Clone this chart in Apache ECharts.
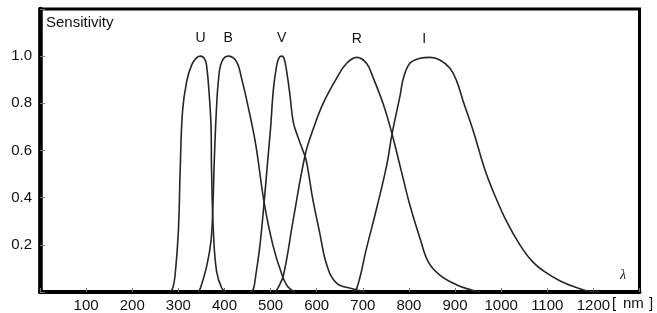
<!DOCTYPE html>
<html><head><meta charset="utf-8">
<script src="https://cdn.jsdelivr.net/npm/echarts@6/dist/echarts.min.js"></script>
<style>html,body{margin:0;padding:0;background:#fff}#c{width:657px;height:313px}</style>
</head><body><div id="c"></div>
<script>
// tick labels
const xTickLabels = [100,200,300,400,500,600,700,800,900,1000,1100,1200];
const yTickLabels = [0.2,0.4,0.6,0.8,1.0];
// band names
const bandNames = ['U','B','V','R','I'];
// wavelength (nm) and sensitivity
const uWave = [282,288,293,300,304,309,318,329,340,348,356,361,367,371,372,376,383,394,403];
const uSens = [0,0.017,0.072,0.256,0.517,0.765,0.892,0.963,0.994,1.0,0.991,0.963,0.835,0.695,0.517,0.256,0.086,0.017,0];
const bWave = [343,348,362,371,375,378,382,387,394,408,426,437,452,468,486,505,525,538,553];
const bSens = [0,0.017,0.114,0.220,0.369,0.560,0.751,0.899,0.975,1.0,0.977,0.907,0.780,0.623,0.380,0.199,0.072,0.021,0];
const vWave = [455,462,468,477,486,493,500,506,513,518,524,529,535,542,549,557,568,577,583,591,606,622,643,679,705];
const vSens = [0,0.008,0.072,0.199,0.380,0.539,0.695,0.857,0.958,0.992,1.0,0.992,0.934,0.835,0.722,0.670,0.611,0.560,0.496,0.399,0.256,0.114,0.038,0.013,0];
const rWave = [510,516,528,549,575,593,614,643,665,687,708,723,745,763,783,802,824,842,867,904,936,954];
const rSens = [0,0.017,0.072,0.305,0.581,0.694,0.800,0.906,0.970,0.995,0.970,0.906,0.793,0.673,0.517,0.369,0.228,0.128,0.072,0.030,0.008,0];
const iWave = [677,687,708,730,752,763,781,788,802,824,846,867,889,904,918,940,965,983,1012,1041,1067,1095,1128,1160,1193,1212];
const iSens = [0,0.016,0.185,0.355,0.539,0.666,0.835,0.906,0.970,0.991,0.995,0.984,0.949,0.892,0.807,0.680,0.517,0.425,0.298,0.199,0.131,0.085,0.047,0.021,0.002,0];

const waves = [uWave,bWave,vWave,rWave,iWave];
const sens = [uSens,bSens,vSens,rSens,iSens];
const FONT = 'Liberation Sans, Arial, sans-serif';

const series = bandNames.map((name, k) => ({
  type: 'line',
  name: name,
  data: waves[k].map((w, j) => [w, sens[k][j]]),
  smooth: 0.4,
  symbol: 'none',
  lineStyle: {color: '#262626', width: 1.6},
  markPoint: {
    symbol: 'circle', symbolSize: 0,
    data: [{type: 'max'}],
    label: {show: true, position: 'inside', formatter: name,
      offset: [name === 'I' ? -6 : 0, -18],
      color: '#111', fontSize: 14, fontFamily: FONT}
  }
}));

const chart = echarts.init(document.getElementById('c'));
chart.setOption({
  animation: false,
  backgroundColor: '#fff',
  grid: {left: 40, right: 17.5, top: 9, bottom: 21, show: true, borderColor: '#000', borderWidth: 3},
  xAxis: {
    type: 'value', min: 0, max: 1300, interval: 100,
    axisLine: {onZero: false, lineStyle: {color: '#000', width: 4}},
    axisTick: {inside: true, length: 4, lineStyle: {color: '#777', width: 1}},
    splitLine: {show: false},
    axisLabel: {margin: 6, color: '#111', fontSize: 15, fontFamily: FONT,
      formatter: v => xTickLabels.includes(v) ? String(v) : ''}
  },
  yAxis: {
    type: 'value', min: 0, max: 1.2, interval: 0.2,
    axisLine: {onZero: false, lineStyle: {color: '#000', width: 4.5}},
    axisTick: {inside: true, length: 5, lineStyle: {color: '#777', width: 1}},
    splitLine: {show: false},
    axisLabel: {margin: 8, color: '#111', fontSize: 15, fontFamily: FONT,
      formatter: v => yTickLabels.some(t => Math.abs(t - v) < 1e-6) ? v.toFixed(1) : ''}
  },
  graphic: [
    {type: 'text', left: 46, top: 15, style: {text: 'Sensitivity', fill: '#111', font: '15px ' + FONT}},
    {type: 'text', left: 612, top: 296, style: {text: '[', fill: '#111', font: '15px ' + FONT}},
    {type: 'text', left: 623, top: 296, style: {text: 'nm', fill: '#111', font: '15px ' + FONT}},
    {type: 'text', left: 649, top: 296, style: {text: ']', fill: '#111', font: '15px ' + FONT}},
    {type: 'text', left: 620, top: 268, style: {text: 'λ', fill: '#111', font: 'italic 14px Liberation Serif, serif'}}
  ],
  series: series
});
</script>
</body></html>
